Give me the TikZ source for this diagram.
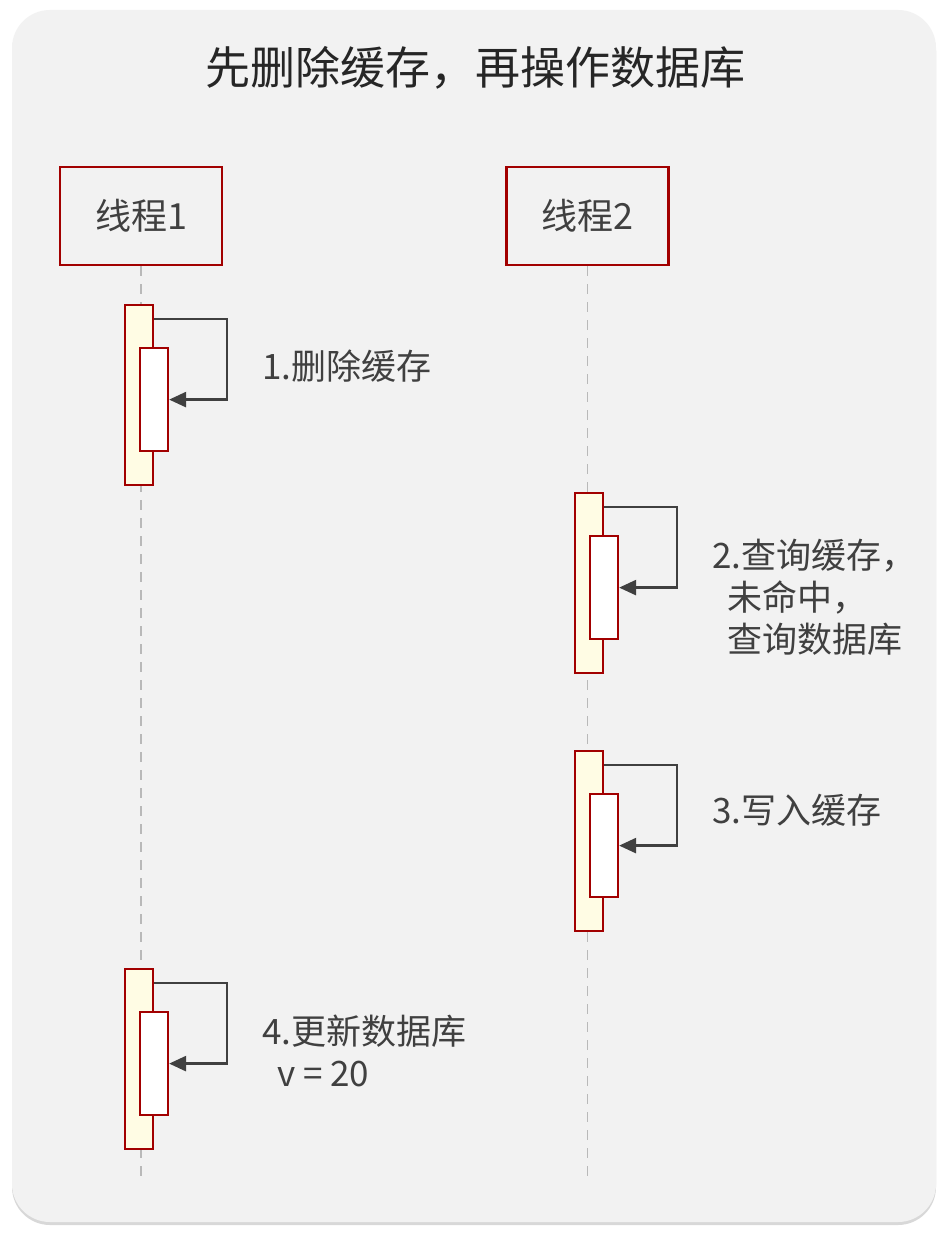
\documentclass[tikz,border=0pt]{standalone}
\usepackage{fontspec}
\setmainfont{Noto Sans CJK SC}
\usetikzlibrary{shadows}
\usetikzlibrary{arrows.meta}
\usepackage{xcolor}
\definecolor{framered}{HTML}{A20000}
\definecolor{actfill}{HTML}{FFFCE4}
\definecolor{panel}{HTML}{F2F2F2}
\definecolor{ink}{HTML}{404040}

\begin{document}
\begin{tikzpicture}[x=1pt,y=-1pt,
	actor/.style={draw=framered,line width=2.4pt,fill=panel,minimum width=162pt,minimum height=98pt,text=ink,font=\fontsize{36}{40}\selectfont},
	outer/.style={draw=framered,line width=2.2pt,fill=actfill,minimum width=28pt,minimum height=180pt,inner sep=0pt,anchor=north},
	inner/.style={draw=framered,line width=2.2pt,fill=white,minimum width=28pt,minimum height=103pt,inner sep=0pt,anchor=north},
	lifeline/.style={gray!55,line width=1.8pt,dash pattern=on 10pt off 8pt},
	selfmsg/.style={ink,line width=2.6pt,-{Triangle[length=17pt,width=15pt]}},
	lbl/.style={anchor=west,align=left,inner sep=0pt,text=ink,font=\fontsize{35}{42}\selectfont}]
\useasboundingbox (0,0) rectangle (950,1236);
\fill[white] (0,0) rectangle (950,1236);
\fill[panel,rounded corners=38pt,drop shadow={shadow xshift=0pt,shadow yshift=-3pt,opacity=0.3}] (12,10) rectangle (936,1222);
\node[text=black!85,font=\fontsize{45}{50}\selectfont] (title) at (475,68) {先删除缓存，再操作数据库};
\node[actor] (t1) at (141,216) {线程1};
\node[actor] (t2) at (587.5,216) {线程2};
\coordinate (e1) at (141,1182);
\coordinate (e2) at (587.5,1182);
\draw[lifeline] (t1.south) -- (e1);
\draw[lifeline] (t2.south) -- (e2);
% activations with self calls
\foreach \n/\x/\y in {1/139/304,2/589/492,3/589/750,4/139/968} {
	\node[outer] (o\n) at (\x,\y) {};
	\node[inner] (i\n) at (\x+15,\y+43) {};
	\draw[selfmsg] ([yshift=-15pt]o\n.north east) -- ++(73,0) |- (i\n.east);
}
\node[lbl] (m1) at (262,366) {1.删除缓存};
\node[lbl] (m2) at (712,597) {2.查询缓存，\\\hspace*{15pt}未命中，\\\hspace*{15pt}查询数据库};
\node[lbl] (m3) at (712,810) {3.写入缓存};
\node[lbl] (m4) at (262,1051) {4.更新数据库\\\hspace*{15pt}v = 20};
\end{tikzpicture}
\end{document}
